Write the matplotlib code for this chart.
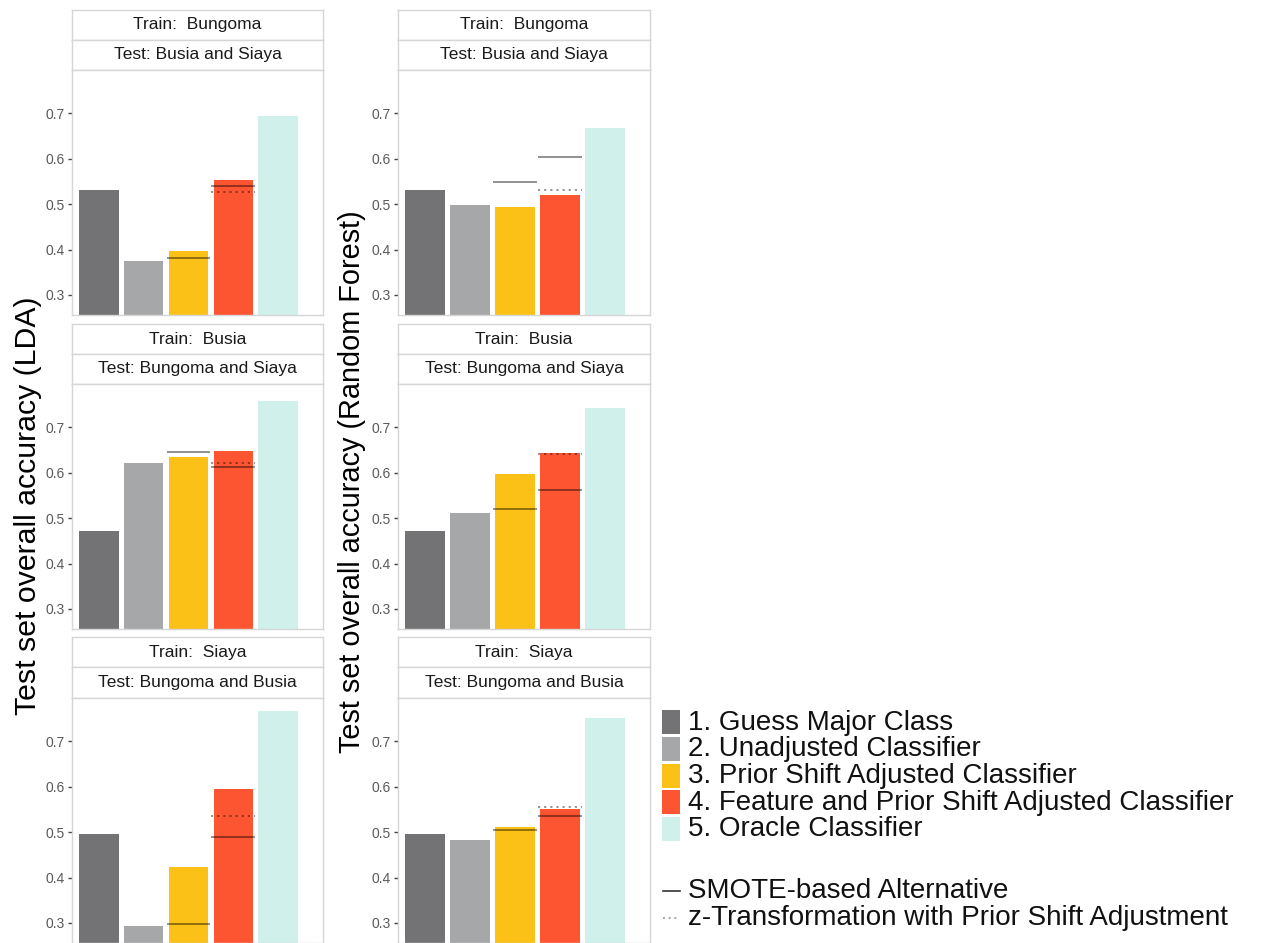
import numpy as np
import matplotlib
matplotlib.use("Agg")
import matplotlib.pyplot as plt
from matplotlib.patches import Rectangle
from matplotlib.lines import Line2D

plt.rcParams['font.family'] = ['Liberation Sans', 'DejaVu Sans']

# ---------------- data ----------------
methods = ["1. Guess Major Class", "2. Unadjusted Classifier",
           "3. Prior Shift Adjusted Classifier",
           "4. Feature and Prior Shift Adjusted Classifier",
           "5. Oracle Classifier"]
colors = ["#737375", "#A6A7A9", "#FCC116", "#FD5531", "#CFF0EB"]

train_labels = ["Train:  Bungoma", "Train:  Busia", "Train:  Siaya"]
test_labels = ["Test: Busia and Siaya", "Test: Bungoma and Siaya", "Test: Bungoma and Busia"]

lda_bars = [[0.532, 0.375, 0.396, 0.553, 0.693],
            [0.471, 0.622, 0.634, 0.648, 0.757],
            [0.496, 0.293, 0.424, 0.595, 0.767]]
rf_bars = [[0.532, 0.499, 0.493, 0.519, 0.668],
           [0.471, 0.512, 0.597, 0.644, 0.743],
           [0.496, 0.482, 0.511, 0.550, 0.750]]

# SMOTE-based alternative for methods 3 and 4
lda_smote = [[0.382, 0.540], [0.645, 0.612], [0.298, 0.489]]
rf_smote = [[0.549, 0.604], [0.521, 0.562], [0.504, 0.535]]
# z-transformation with prior shift adjustment, method 4
lda_ztrans = [0.527, 0.622, 0.536]
rf_ztrans = [0.531, 0.642, 0.556]

yticks = [0.3, 0.4, 0.5, 0.6, 0.7]
ylabel_lda = "Test set overall accuracy (LDA)"
ylabel_rf = "Test set overall accuracy (Random Forest)"
line_legend = ["SMOTE-based Alternative", "z-Transformation with Prior Shift Adjustment"]

# ---------------- layout ----------------
W, H = 1263, 943
fig = plt.figure(figsize=(W / 100, H / 100), dpi=100)
fig.patch.set_facecolor("white")

def fax(x0, y0, x1, y1):
    return fig.add_axes([x0 / W, 1 - y1 / H, (x1 - x0) / W, (y1 - y0) / H])

border = "#D6D6D6"
cols_x = [(72, 323), (398, 650)]
rows_y = [(10, 40, 70, 315), (324, 354, 384, 629), (637, 667, 698, 943)]

x = np.arange(1, 6)

def strip(x0, y0, x1, y1, text):
    a = fax(x0, y0, x1, y1)
    a.set_xticks([]); a.set_yticks([])
    for s in a.spines.values():
        s.set_color(border); s.set_linewidth(1.0)
    a.text(0.5, 0.5, text, ha="center", va="center", fontsize=12.5,
           color="#1A1A1A", transform=a.transAxes)

for c, (bars, smote, ztr) in enumerate([(lda_bars, lda_smote, lda_ztrans),
                                        (rf_bars, rf_smote, rf_ztrans)]):
    x0, x1 = cols_x[c]
    for r in range(3):
        ys0, ys1, yp0, yp1 = rows_y[r]
        strip(x0, ys0, x1, ys1, train_labels[r])
        strip(x0, ys1, x1, yp0, test_labels[r])
        ax = fax(x0, yp0, x1, yp1)
        ax.bar(x, bars[r], width=0.88, color=colors, zorder=2)
        ax.hlines(smote[r], [3 - 0.49, 4 - 0.49], [3 + 0.49, 4 + 0.49],
                  colors="black", alpha=0.5, linewidth=1.2, zorder=3)
        ax.hlines([ztr[r]], [4 - 0.49], [4 + 0.49], colors="black", alpha=0.45,
                  linewidth=1.3, linestyles=(0, (1.2, 2.2)), zorder=3)
        ax.set_xlim(0.4, 6.0)
        ax.set_ylim(0.256, 0.795)
        ax.set_yticks(yticks)
        ax.set_yticklabels([f"{t:.1f}" for t in yticks])
        ax.set_xticks([])
        ax.tick_params(axis="y", length=3, width=1, color="#444444",
                       labelcolor="#5A5A5A", labelsize=10, pad=2)
        for s in ax.spines.values():
            s.set_color(border); s.set_linewidth(1.0)

# y labels
fig.text(28 / W, 1 - 506 / H, ylabel_lda, rotation=90, ha="center", va="center",
         fontsize=21.8, color="black")
fig.text(352 / W, 1 - 482 / H, ylabel_rf, rotation=90, ha="center", va="center",
         fontsize=20.8, color="black")

# legend: fill keys
key_x0, key_x1 = 662, 680
key_tops = [710, 737, 763.5, 790, 816.5]
for i, (m, col) in enumerate(zip(methods, colors)):
    t = key_tops[i]
    fig.patches.append(Rectangle((key_x0 / W, 1 - (t + 24) / H), (key_x1 - key_x0) / W, 24 / H,
                                 transform=fig.transFigure, facecolor=col, edgecolor="none"))
    fig.text(688 / W, 1 - (t + 12.5) / H, m, ha="left", va="center", fontsize=20, color="#111111")

# legend: line keys
line_ys = [891, 918]
styles = [dict(color="#333333", linewidth=1.2, linestyle="-"),
          dict(color="#999999", linewidth=1.2, linestyle=(0, (1.2, 2.2)))]
for lbl, yy, st in zip(line_legend, line_ys, styles):
    fig.lines.append(Line2D([663 / W, 680 / W], [1 - yy / H, 1 - yy / H],
                            transform=fig.transFigure, **st))
    fig.text(688 / W, 1 - yy / H, lbl, ha="left", va="center", fontsize=20, color="#111111")

fig.savefig("out.png", dpi=100, facecolor="white")
